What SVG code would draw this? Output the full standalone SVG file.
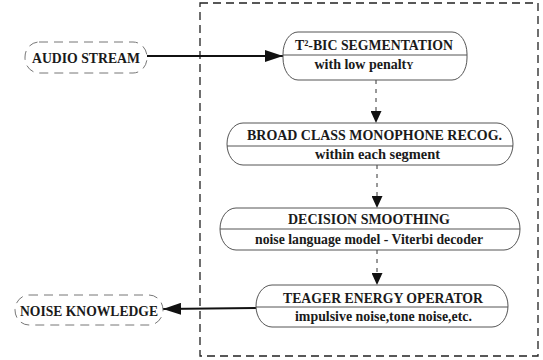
<svg xmlns="http://www.w3.org/2000/svg" width="543" height="360" viewBox="0 0 543 360">
<style>
.box{fill:#fff;stroke:#555;stroke-width:1}
.div{stroke:#555;stroke-width:1}
.term{fill:#fff;stroke:#777;stroke-width:1;stroke-dasharray:9 6}
.t{font-weight:bold;fill:#1a1a1a;text-anchor:middle}
.h{font-size:15px}
.s{font-size:14px}
.solid{stroke:#111;stroke-width:2;fill:none}
.dash{stroke:#333;stroke-width:1;stroke-dasharray:4 5;fill:none}
</style>
<defs>
<marker id="ah" viewBox="0 0 10 10" refX="10" refY="5" markerWidth="12" markerHeight="11" markerUnits="userSpaceOnUse" orient="auto" preserveAspectRatio="none">
<path d="M0,0 L10,5 L0,10 z" fill="#111"/>
</marker>
<marker id="ahb" viewBox="0 0 10 10" refX="10" refY="5" markerWidth="18" markerHeight="12" markerUnits="userSpaceOnUse" orient="auto" preserveAspectRatio="none">
<path d="M0,0 L10,5 L0,10 z" fill="#111"/>
</marker>
</defs>
<rect x="200" y="3" width="338" height="353" fill="none" stroke="#222" stroke-width="1.3" stroke-dasharray="8 5"/>
<g id="connectors">
<line class="solid" x1="147" y1="56" x2="283" y2="56" marker-end="url(#ahb)"/>
<line class="dash" x1="376" y1="80" x2="376" y2="123" marker-end="url(#ah)"/>
<line class="dash" x1="377" y1="165" x2="377" y2="208" marker-end="url(#ah)"/>
<line class="dash" x1="377" y1="250" x2="377" y2="285" marker-end="url(#ah)"/>
<line class="solid" x1="256" y1="308" x2="163" y2="309" marker-end="url(#ahb)"/>
</g>
<g font-family="Liberation Serif, Times New Roman, serif">
<g id="audio">
<rect class="term" x="25" y="42" width="122" height="31" rx="14" ry="15"/>
<text class="t s" x="86" y="63" textLength="108" lengthAdjust="spacingAndGlyphs">AUDIO STREAM</text>
</g>
<g id="noise">
<rect class="term" x="15" y="295" width="148" height="30" rx="14" ry="15"/>
<text class="t s" x="89" y="316" textLength="138" lengthAdjust="spacingAndGlyphs">NOISE KNOWLEDGE</text>
</g>
<g id="n1">
<rect class="box" x="283" y="32" width="184" height="48" rx="15" ry="22"/>
<line class="div" x1="283" y1="55" x2="467" y2="55"/>
<text class="t h" x="374" y="50" textLength="158" lengthAdjust="spacingAndGlyphs">T²-BIC SEGMENTATION</text>
<text class="t s" x="364" y="69" textLength="99" lengthAdjust="spacingAndGlyphs">with low penalt<tspan font-size="10">Y</tspan></text>
</g>
<g id="n2">
<rect class="box" x="227" y="123" width="286" height="42" rx="16" ry="21"/>
<line class="div" x1="227" y1="146" x2="513" y2="146"/>
<text class="t h" x="374.5" y="140" textLength="255" lengthAdjust="spacingAndGlyphs">BROAD CLASS MONOPHONE RECOG.</text>
<text class="t s" x="377.5" y="159" textLength="125" lengthAdjust="spacingAndGlyphs">within each segment</text>
</g>
<g id="n3">
<rect class="box" x="220" y="208" width="300" height="42" rx="16" ry="21"/>
<line class="div" x1="220" y1="229" x2="520" y2="229"/>
<text class="t h" x="369" y="224" textLength="162" lengthAdjust="spacingAndGlyphs">DECISION SMOOTHING</text>
<text class="t s" x="369" y="244" textLength="228" lengthAdjust="spacingAndGlyphs">noise language model - Viterbi decoder</text>
</g>
<g id="n4">
<rect class="box" x="256" y="285" width="252" height="42" rx="16" ry="21"/>
<line class="div" x1="256" y1="307" x2="508" y2="307"/>
<text class="t h" x="383" y="303" textLength="200" lengthAdjust="spacingAndGlyphs">TEAGER ENERGY OPERATOR</text>
<text class="t s" x="383.5" y="321" textLength="177" lengthAdjust="spacingAndGlyphs">impulsive noise,tone noise,etc.</text>
</g>
</g>
</svg>
